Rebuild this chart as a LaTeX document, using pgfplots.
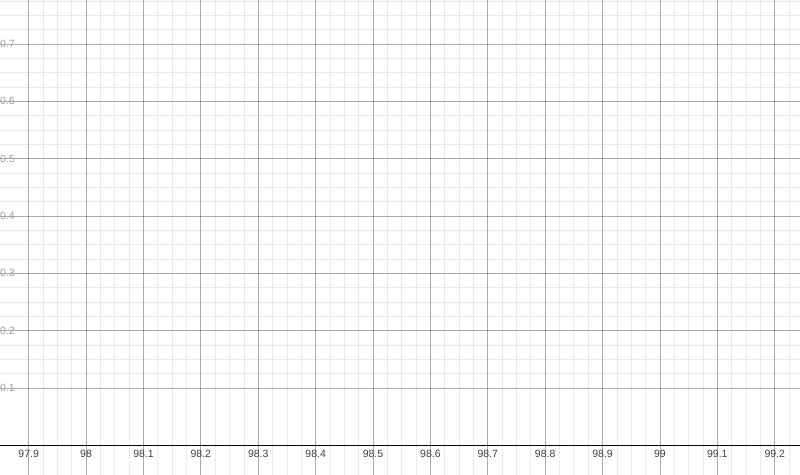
\documentclass[border=0pt]{standalone}
\usepackage{fontspec}
\setmainfont{Liberation Sans}
\usepackage{pgfplots}
\pgfplotsset{compat=1.18}
\begin{document}
\fontsize{10.3}{12}\selectfont
\begin{tikzpicture}
\begin{axis}[
  width=800pt, height=475pt, scale only axis,
  xmin=97.85, xmax=99.244,
  ymin=-0.0518, ymax=0.7767,
  axis x line=middle, axis y line=left,
  axis line style={draw=none},
  x axis line style={draw=none},
  y axis line style={draw=none},
  xtick={97.9,98,...,99.25},
  ytick={0.1,0.2,...,0.75},
  minor x tick num=3, minor y tick num=3,
  grid=both,
  major grid style={draw=black, draw opacity=0.33, line width=0.8pt},
  minor grid style={draw=black, draw opacity=0.08, line width=0.8pt},
  tick style={draw=none},
  /pgf/number format/assume math mode=true,
  xticklabel={\pgfmathprintnumber[fixed,precision=1]{\tick}},
  yticklabel={\pgfmathprintnumber[fixed,precision=1]{\tick}},
  x tick label style={anchor=north, inner sep=1pt, yshift=-1.5pt, text=black!75, font=\fontsize{10.5}{12}\selectfont},
  y tick label style={anchor=west, inner sep=1pt, xshift=1pt, text=black!38, font=\fontsize{10.5}{12}\selectfont},
  clip=false,
]
\addplot[black, line width=1.4pt, forget plot] coordinates {(97.85,0) (99.244,0)};
\end{axis}
\pgfresetboundingbox
\useasboundingbox (current axis.south west) rectangle (current axis.north east);
\end{tikzpicture}
\end{document}
